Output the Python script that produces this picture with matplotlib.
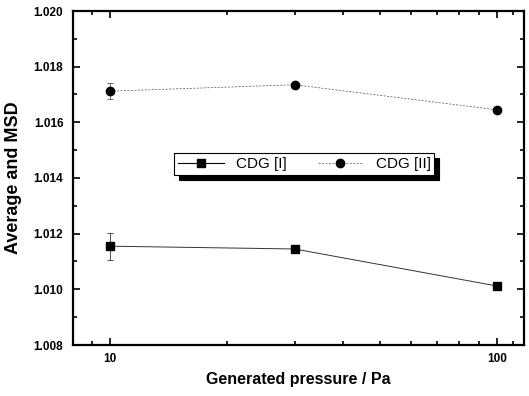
import matplotlib
matplotlib.use("Agg")
import matplotlib.pyplot as plt
from matplotlib.lines import Line2D
from matplotlib.ticker import FixedLocator, MultipleLocator, FormatStrFormatter, NullFormatter

plt.rcParams['font.family'] = ['Liberation Sans', 'DejaVu Sans']

pressure = [10, 30, 100]
cdg1 = [1.01155, 1.01145, 1.01012]
cdg1_err = [0.00048, 0.0001, 0.00005]
cdg2 = [1.01712, 1.01735, 1.01645]
cdg2_err = [0.00028, 0.00008, 0.00006]
xtick_vals = [10, 100]
xtick_labels = ['10', '100']
labels = ['CDG [I]', 'CDG [II]']

fig = plt.figure(figsize=(5.29, 3.96), dpi=100)
ax = fig.add_axes([73/529, 1-345/396, (524-73)/529, (345-11)/396])

ax.errorbar(pressure, cdg1, yerr=cdg1_err, color='#333333', marker='s', markersize=6,
            mfc='black', mec='black',
            linewidth=0.7, elinewidth=0.6, capsize=2.5, capthick=0.6)
ax.errorbar(pressure, cdg2, yerr=cdg2_err, color='#555555', marker='o', markersize=6,
            mfc='black', mec='black',
            linestyle=(0, (3, 2)), linewidth=0.5, elinewidth=0.6, capsize=2.5, capthick=0.6)

ax.set_xscale('log')
ax.set_xlim(8.02, 117.5)
ax.set_ylim(1.008, 1.020)
ax.xaxis.set_major_locator(FixedLocator(xtick_vals))
ax.set_xticklabels(xtick_labels)
ax.xaxis.set_minor_locator(FixedLocator([9, 20, 30, 40, 50, 60, 70, 80, 90, 110]))
ax.xaxis.set_minor_formatter(NullFormatter())
ax.yaxis.set_major_locator(MultipleLocator(0.002))
ax.yaxis.set_minor_locator(MultipleLocator(0.001))
ax.yaxis.set_major_formatter(FormatStrFormatter('%.3f'))

ax.tick_params(which='both', direction='in', top=True, right=True, labelsize=8.5, width=1.2)
ax.tick_params(which='major', length=5)
ax.tick_params(which='minor', length=3)
ax.tick_params(axis='y', pad=7)
ax.tick_params(axis='x', pad=6)
for lbl in ax.get_xticklabels() + ax.get_yticklabels():
    lbl.set_fontweight('bold')
for s in ax.spines.values():
    s.set_linewidth(1.6)

ax.set_xlabel('Generated pressure / Pa', fontsize=11.5, fontweight='bold', labelpad=5)
ax.set_ylabel('Average and MSD', fontsize=13, fontweight='bold', labelpad=8)

handles = [Line2D([], [], color='black', marker='s', markersize=6, linewidth=0.8),
           Line2D([], [], color='#555555', marker='o', markersize=6, mfc='black', mec='black',
                  linestyle=(0, (3, 2)), linewidth=0.5)]
leg = ax.legend(handles, labels, loc='center', bbox_to_anchor=(0.513, 0.542), ncol=2, frameon=True,
                fancybox=False, shadow={'ox': 3.6, 'oy': -3.6, 'color': 'black', 'alpha': 1},
                edgecolor='black', fontsize=11,
                handlelength=3, columnspacing=2.0, borderpad=0.25, framealpha=1)
leg.get_frame().set_linewidth(0.8)

fig.savefig('out.png', dpi=100)
